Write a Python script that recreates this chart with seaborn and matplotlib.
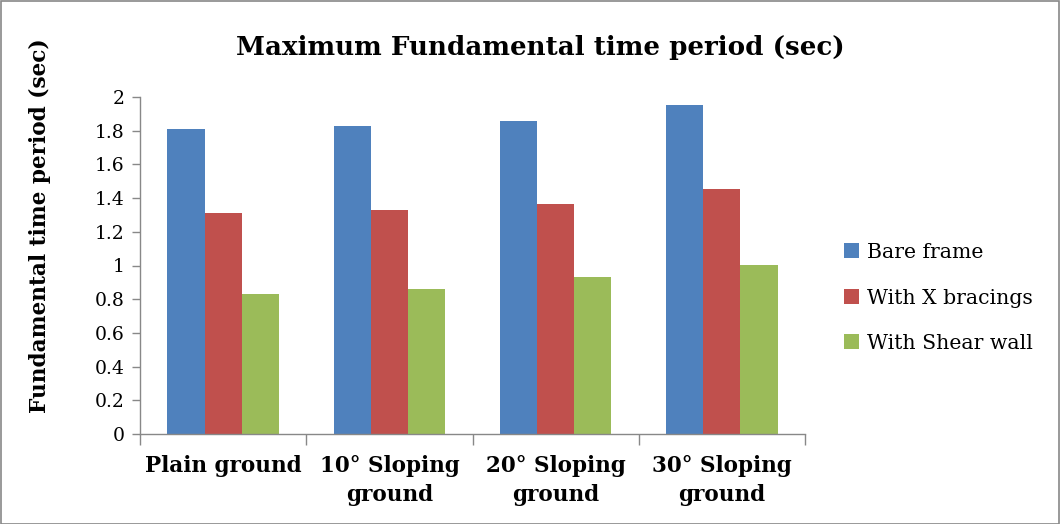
import matplotlib
matplotlib.use("Agg")
import matplotlib.pyplot as plt
import seaborn as sns
import pandas as pd
from matplotlib.patches import Rectangle, Patch
from matplotlib.ticker import FixedLocator, NullFormatter, FixedFormatter

categories = ["Plain ground", "10° Sloping\nground", "20° Sloping\nground", "30° Sloping\nground"]
series = ["Bare frame", "With X bracings", "With Shear wall"]
bare_frame = [1.81, 1.83, 1.86, 1.95]
x_bracings = [1.31, 1.33, 1.365, 1.455]
shear_wall = [0.83, 0.86, 0.93, 1.005]
colors = ["#4F81BD", "#C0504D", "#9BBB59"]
yticks = [0, 0.2, 0.4, 0.6, 0.8, 1, 1.2, 1.4, 1.6, 1.8, 2]
ytick_labels = ["0", "0.2", "0.4", "0.6", "0.8", "1", "1.2", "1.4", "1.6", "1.8", "2"]

df = pd.DataFrame({
    "category": categories * 3,
    "series": [series[0]] * 4 + [series[1]] * 4 + [series[2]] * 4,
    "value": bare_frame + x_bracings + shear_wall,
})

sns.set_style("white")
plt.rcParams["font.family"] = ["DejaVu Serif"]
plt.rcParams["text.color"] = "black"
plt.rcParams["xtick.labelcolor"] = "black"
plt.rcParams["ytick.labelcolor"] = "black"

fig = plt.figure(figsize=(10.6, 5.24), dpi=100)
ax = fig.add_axes([140 / 1060, 1 - 434 / 524, (805 - 140) / 1060, (434 - 97) / 524])

sns.barplot(data=df, x="category", y="value", hue="series", palette=colors,
            width=0.67, saturation=1, linewidth=0, ax=ax, legend=False)

ax.set_xlim(-0.5, 3.5)
ax.set_ylim(0, 2)
ax.set_xlabel("")
ax.set_ylabel("")

ax.yaxis.set_major_locator(FixedLocator(yticks))
ax.yaxis.set_major_formatter(FixedFormatter(ytick_labels))
ax.tick_params(axis="y", direction="out", length=6, width=1, color="#888888",
               labelcolor="black", labelsize=13.5, pad=5, left=True)

ax.xaxis.set_major_locator(FixedLocator([-0.5, 0.5, 1.5, 2.5, 3.5]))
ax.xaxis.set_major_formatter(NullFormatter())
ax.xaxis.set_minor_locator(FixedLocator([0, 1, 2, 3]))
ax.xaxis.set_minor_formatter(FixedFormatter(categories))
ax.tick_params(axis="x", which="major", direction="out", length=8, width=1,
               color="#888888", bottom=True)
ax.tick_params(axis="x", which="minor", length=0, pad=15, labelsize=15.5,
               labelcolor="black")
for lab in ax.xaxis.get_minorticklabels():
    lab.set_fontweight("bold")
    lab.set_linespacing(1.45)

for s in ["top", "right"]:
    ax.spines[s].set_visible(False)
for s in ["left", "bottom"]:
    ax.spines[s].set_color("#888888")
    ax.spines[s].set_linewidth(1)

fig.text(540 / 1060, 1 - 48 / 524, "Maximum Fundamental time period (sec)",
         ha="center", va="center", fontsize=18.8, fontweight="bold", color="black")
fig.text(40 / 1060, 1 - 226 / 524, "Fundamental time period (sec)",
         ha="center", va="center", rotation=90, fontsize=15.6, fontweight="bold",
         color="black")

handles = [Patch(facecolor=c, edgecolor="none") for c in colors]
leg = fig.legend(handles, series, loc="center left",
                 bbox_to_anchor=(836 / 1060, 1 - 298 / 524), frameon=False,
                 fontsize=14.7, handlelength=0.75, handleheight=0.75,
                 handletextpad=0.35, labelspacing=1.3, borderaxespad=0)
for t in leg.get_texts():
    t.set_color("black")

fig.patches.append(Rectangle((0.5 / 1060, 0.5 / 524), 1 - 1.5 / 1060, 1 - 1.5 / 524,
                             transform=fig.transFigure, fill=False,
                             edgecolor="#888888", linewidth=1.2))

fig.savefig("out.png", dpi=100)
